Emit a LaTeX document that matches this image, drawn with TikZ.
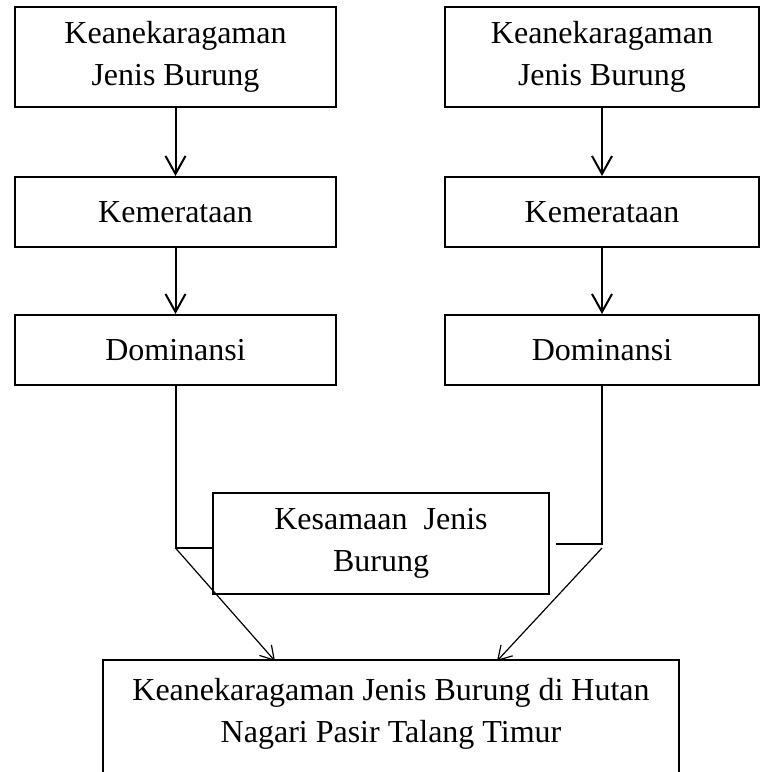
\documentclass[tikz,border=0pt]{standalone}
\usepackage{fontspec}
\setmainfont{Liberation Serif}
\usetikzlibrary{arrows.meta,positioning}

\begin{document}
\begin{tikzpicture}
  [
  x=0.75pt, y=-0.75pt,
  font=\fontsize{24}{31.5}\selectfont, line width=1.5pt, draw=black,
  kotak/.style={rectangle, draw=black, line width=1.5pt, inner sep=2pt, align=center},
  panah/.style={-{Straight Barb[length=13.5pt,width=15pt,line width=1.5pt]}, line width=1.5pt},
  panahtipis/.style={-{Straight Barb[length=10pt,width=12pt,line width=0.9pt]}, line width=0.9pt},
  ]

  \useasboundingbox (0,0) rectangle (763,772);

  \foreach \s/\x/\w in {1/175.5/240.75pt, 2/602/235.5pt} {
    \node[kotak, minimum width=\w, minimum height=75pt] (kean\s) at (\x,57) {Keanekaragaman\\Jenis Burung};
    \node[kotak, minimum width=\w, minimum height=52.5pt] (rata\s) at (\x,212) {Kemerataan};
    \node[kotak, minimum width=\w, minimum height=52.5pt] (domi\s) at (\x,350) {Dominansi};
    \draw[panah] (kean\s) -- (rata\s);
    \draw[panah] (rata\s) -- (domi\s);
  }

  \node[kotak, minimum width=252pt, minimum height=75.75pt] (sama) at (381,543.5) {Kesamaan~~Jenis\\Burung};

  % kotak bawah, terpotong di tepi gambar
  \node[rectangle, align=center, minimum width=430.5pt, minimum height=79.5pt] (hasil) at (391,714)
    {Keanekaragaman Jenis Burung di Hutan\\Nagari Pasir Talang Timur};
  \coordinate (bawah) at (0,772);
  \draw[line width=1.5pt] (hasil.west |- bawah) |- (hasil.north east) -- (hasil.east |- bawah);

  \coordinate (h1) at (0,548);
  \coordinate (h2) at (0,544);
  \coordinate (j1) at (domi1.south |- h1);
  \coordinate (j2) at (domi2.south |- h2);
  \coordinate (t1) at (275,661);
  \coordinate (t2) at (497,661);

  \draw (domi1.south) -- (j1) -- (sama.west |- j1);
  \draw (domi2.south) -- (j2) -- ([xshift=4.5pt]sama.east |- j2);
  \draw[panahtipis] (j1) -- (t1);
  \draw[panahtipis] ([yshift=-3pt]j2) -- (t2);

\end{tikzpicture}
\end{document}
